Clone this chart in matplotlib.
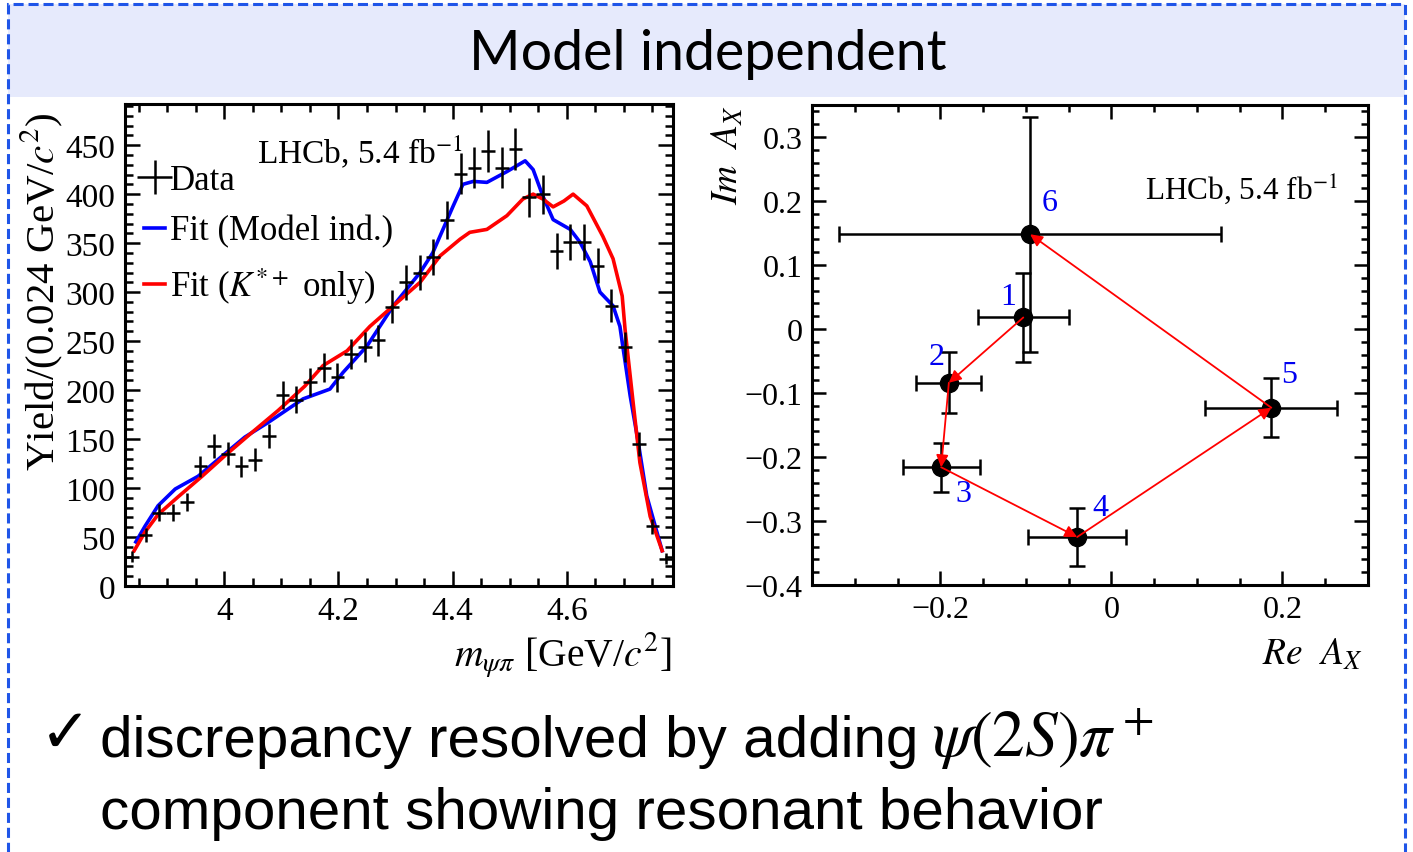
import matplotlib as mpl
import matplotlib.pyplot as plt
from matplotlib.patches import Rectangle
from matplotlib.ticker import MultipleLocator, FuncFormatter

mpl.rcParams['font.family'] = 'serif'
mpl.rcParams['font.serif'] = ['Liberation Serif']
mpl.rcParams['mathtext.fontset'] = 'stix'

# m(psi pi) spectrum: 40 bins of 0.024 GeV starting at threshold
bin_lo = 3.826
bin_w = 0.024
yields = [30, 52, 75, 75, 86, 122, 143, 135, 122, 129,
          153, 195, 190, 208, 223, 213, 237, 244, 251, 285,
          310, 320, 336, 374, 421, 427, 444, 427, 446, 397,
          400, 342, 351, 351, 327, 286, 244, 145, 61, 28]
yield_err = [5.5, 7.2, 8.7, 8.7, 9.3, 11, 12, 11.6, 11, 11.4,
             12.4, 14, 13.8, 14.4, 14.9, 14.6, 15.4, 15.6, 15.8, 16.9,
             17.6, 17.9, 18.3, 19.3, 20.5, 20.7, 21.1, 20.7, 21.1, 19.9,
             20, 18.5, 18.7, 18.7, 18.1, 16.9, 15.6, 12, 7.8, 5.3]

fit_model_m = [3.845, 3.861, 3.884, 3.914, 3.954, 4.001, 4.036, 4.077, 4.138,
               4.185, 4.208, 4.250, 4.296, 4.343, 4.365, 4.383, 4.401, 4.418,
               4.436, 4.460, 4.495, 4.527, 4.541, 4.558, 4.576, 4.606, 4.623,
               4.641, 4.658, 4.681, 4.693, 4.698, 4.711, 4.725, 4.740, 4.767]
fit_model_y = [45, 61, 82, 99, 112, 135, 152, 167, 191,
               201, 218, 245, 286, 320, 340, 364, 388, 410,
               413, 412, 423, 434, 425, 398, 374, 364, 351,
               331, 300, 286, 265, 245, 194, 147, 92, 36]

fit_kstar_m = [3.842, 3.861, 3.884, 3.919, 3.961, 4.001, 4.049, 4.094, 4.141,
               4.173, 4.215, 4.255, 4.296, 4.343, 4.378, 4.413, 4.430, 4.460,
               4.495, 4.523, 4.541, 4.558, 4.576, 4.595, 4.611, 4.635, 4.663,
               4.681, 4.697, 4.702, 4.716, 4.728, 4.746, 4.767]
fit_kstar_y = [36, 55, 73, 91, 112, 133, 157, 179, 204,
               225, 240, 265, 286, 310, 337, 354, 361, 364,
               378, 395, 400, 395, 387, 393, 400, 388, 357,
               334, 296, 262, 188, 126, 71, 36]

# Argand diagram of the model-independent amplitude
re_ax = [-0.103, -0.190, -0.199, -0.040, 0.187, -0.095]
im_ax = [0.018, -0.084, -0.216, -0.325, -0.123, 0.148]
re_err = [0.053, 0.038, 0.045, 0.057, 0.077, 0.223]
im_err = [0.070, 0.048, 0.038, 0.045, 0.046, 0.184]
point_ids = ['1', '2', '3', '4', '5', '6']
id_offsets = [(-11, 15), (-9, 19), (16, -19), (17, 21), (13, 24), (14, 23)]

W, H = 1413, 853


def box(x0, y0, x1, y1):
    return [x0 / W, 1 - y1 / H, (x1 - x0) / W, (y1 - y0) / H]


def fmt(v, pos):
    return '{:g}'.format(round(v, 6)).replace('-', '\u2212')


def style_axes(ax, major_len, minor_len, size):
    ax.tick_params(which='both', direction='in', top=True, right=True,
                   width=1.8, labelsize=size, pad=7)
    ax.tick_params(which='major', length=major_len)
    ax.tick_params(which='minor', length=minor_len)
    for s in ax.spines.values():
        s.set_linewidth(2.2)
    ax.xaxis.set_major_formatter(FuncFormatter(fmt))
    ax.yaxis.set_major_formatter(FuncFormatter(fmt))


fig = plt.figure(figsize=(W / 100, H / 100), dpi=100)

# slide frame and header band
fig.patches.append(Rectangle((8 / W, 1 - 98 / H), 1397 / W, 93 / H,
                             transform=fig.transFigure, fc='#E6EAFC', ec='none'))
fig.patches.append(Rectangle((8 / W, -0.1), 1397 / W, 1.1 - 5 / H,
                             transform=fig.transFigure, fill=False,
                             ec='#1F55E8', lw=2.2, ls=(0, (3.3, 1.6))))
fig.text(708 / W, 1 - 55 / H, 'Model independent', ha='center', va='center',
         fontsize=40, family='Lato')

# left: mass spectrum
ax1 = fig.add_axes(box(125, 105, 673, 587))
centers = [bin_lo + bin_w * (i + 0.5) for i in range(len(yields))]
eb = ax1.errorbar(centers, yields, xerr=bin_w / 2, yerr=yield_err, fmt='none',
                  ecolor='black', elinewidth=1.8, capsize=0, zorder=3, label='Data')
lb, = ax1.plot(fit_model_m, fit_model_y, color='#0000FF', lw=2.6,
               label='Fit (Model ind.)')
lr, = ax1.plot(fit_kstar_m, fit_kstar_y, color='#FF0000', lw=2.6,
               label='Fit ($K^{*+}$ only)')
ax1.set_xlim(3.826, 4.786)
ax1.set_ylim(0, 492)
ax1.xaxis.set_major_locator(MultipleLocator(0.2))
ax1.xaxis.set_minor_locator(MultipleLocator(0.05))
ax1.yaxis.set_major_locator(MultipleLocator(50))
ax1.yaxis.set_minor_locator(MultipleLocator(10))
style_axes(ax1, 11, 6, 24)
ax1.legend(handles=[eb, lb, lr], loc='upper left', bbox_to_anchor=(0.035, 0.875),
           frameon=False, fontsize=25, handlelength=0.6, handletextpad=0.15,
           labelspacing=0.5, borderpad=0, borderaxespad=0)
fig.text(257 / W, 1 - 152 / H, 'LHCb, 5.4 fb$^{-1}$', fontsize=24, va='center')
fig.text(42 / W, 1 - 113 / H, 'Yield/(0.024 GeV/$c^2$)', rotation=90,
         ha='center', va='top', fontsize=29.5)
fig.text(672 / W, 1 - 655 / H, r'$m_{\psi\pi}$ [GeV/$c^2$]', ha='right',
         va='center', fontsize=28.5)

# right: Argand diagram
ax2 = fig.add_axes(box(812, 106, 1368, 586))
ax2.errorbar(re_ax, im_ax, xerr=re_err, yerr=im_err, fmt='o', color='black',
             ms=13, capsize=6, elinewidth=1.8, capthick=1.8)
for i in range(len(re_ax) - 1):
    ax2.annotate('', xy=(re_ax[i + 1], im_ax[i + 1]), xytext=(re_ax[i], im_ax[i]),
                 arrowprops=dict(arrowstyle='-|>', color='red', lw=1.3,
                                 mutation_scale=18, shrinkA=0, shrinkB=0))
for x, y, t, off in zip(re_ax, im_ax, point_ids, id_offsets):
    ax2.annotate(t, (x, y), xytext=off, textcoords='offset points',
                 color='#0000F0', fontsize=23, ha='center', va='center')
ax2.set_xlim(-0.35, 0.30)
ax2.set_ylim(-0.40, 0.35)
ax2.xaxis.set_major_locator(MultipleLocator(0.2))
ax2.xaxis.set_minor_locator(MultipleLocator(0.05))
ax2.yaxis.set_major_locator(MultipleLocator(0.1))
ax2.yaxis.set_minor_locator(MultipleLocator(0.02))
style_axes(ax2, 10, 5, 23)
fig.text(1145 / W, 1 - 190 / H, 'LHCb, 5.4 fb$^{-1}$', fontsize=22.5, va='center')
fig.text(728 / W, 1 - 105 / H, r'$Im\ \ A_X$', rotation=90, ha='center',
         va='top', fontsize=27)
fig.text(1362 / W, 1 - 655 / H, r'$Re\ \ A_X$', ha='right', va='center',
         fontsize=27)

# conclusion lines
fig.text(40 / W, 1 - 735 / H, '\u2713', fontsize=44, family='DejaVu Sans',
         va='center')
fig.text(100 / W, 1 - 757 / H, 'discrepancy resolved by adding',
         fontsize=42, family='Liberation Sans', va='baseline')
fig.text(932 / W, 1 - 757 / H, r'$\psi(2S)\pi^+$', fontsize=47, va='baseline')
fig.text(100 / W, 1 - 829 / H, 'component showing resonant behavior',
         fontsize=42, family='Liberation Sans', va='baseline')

fig.savefig('out.png', dpi=100)
plt.close(fig)
